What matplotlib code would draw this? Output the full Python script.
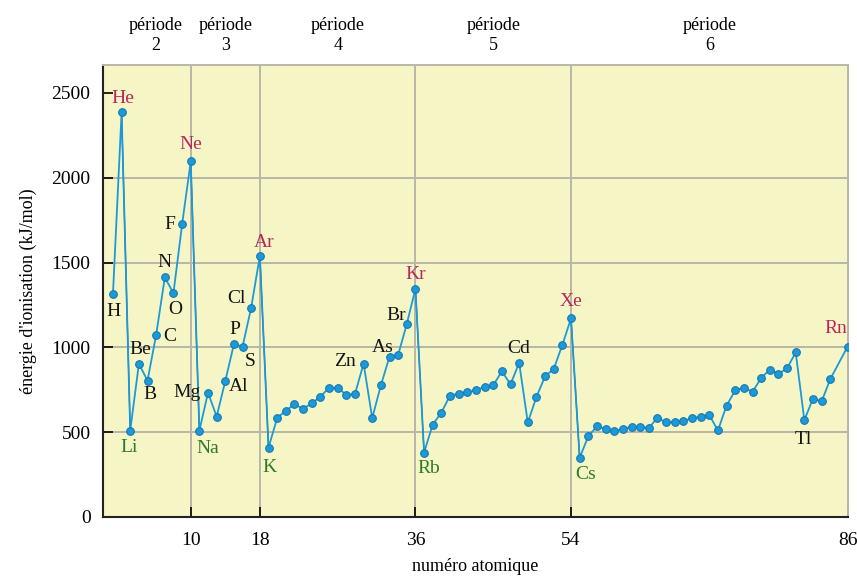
import matplotlib
matplotlib.use("Agg")
import matplotlib.pyplot as plt

plt.rcParams['font.family'] = ['Liberation Serif', 'DejaVu Serif']

# numero atomique (At, 85, is not on the chart)
numero = list(range(1, 85)) + [86]
energie = [1314, 2385, 509, 903, 804, 1074, 1412, 1320, 1725, 2096,
           509, 733, 592, 802, 1020, 1005, 1235, 1540,
           408, 584, 626, 664, 638, 670, 709, 762, 762, 720, 724, 904,
           583, 776, 945, 955, 1138, 1345,
           380, 545, 615, 716, 726, 736, 746, 768, 776, 859, 782, 909,
           557, 708, 829, 873, 1014, 1171,
           349, 476, 534, 520, 506, 520, 530, 530, 524, 585, 557, 560,
           567, 581, 591, 601, 510, 657, 746, 762, 738, 819, 869, 843,
           877, 970, 571, 698, 681, 813, 1004]

# labelled elements: symbol, atomic number
symboles = ["H", "He", "Li", "Be", "B", "C", "N", "O", "F", "Ne",
            "Na", "Mg", "Al", "P", "S", "Cl", "Ar", "K", "Zn", "As",
            "Br", "Kr", "Rb", "Cd", "Xe", "Cs", "Tl", "Rn"]
z_symboles = [1, 2, 3, 4, 5, 6, 7, 8, 9, 10, 11, 12, 13, 15, 16, 17, 18,
              19, 30, 33, 35, 36, 37, 48, 54, 55, 81, 86]

gaz_rares = ["He", "Ne", "Ar", "Kr", "Xe", "Rn"]
alcalins = ["Li", "Na", "K", "Rb", "Cs"]

limites = [2, 10, 18, 36, 54, 86]
periodes = ["2", "3", "4", "5", "6"]
xticks = [10, 18, 36, 54, 86]
yticks = [0, 500, 1000, 1500, 2000, 2500]

# label offsets in pixels (dx, dy)
decal = {"H": (1, -17), "He": (1, 14), "Li": (-1, -17), "Be": (1, 14),
         "B": (2, -14), "C": (14, -2), "N": (0, 15), "O": (2, -16),
         "F": (-12, 0), "Ne": (0, 17), "Na": (8, -18), "Mg": (-21, 0),
         "Al": (22, 30), "P": (1, 14), "S": (8, -15), "Cl": (-15, 9),
         "Ar": (4, 13), "K": (1, -20), "Zn": (-19, 2), "As": (-7, 9),
         "Br": (-11, 8), "Kr": (0, 14), "Rb": (5, -16), "Cd": (0, 14),
         "Xe": (0, 17), "Cs": (6, -17), "Tl": (-1, -19), "Rn": (-12, 18)}

bleu = "#1c9ad8"
gris = "#b8b7a8"

fig = plt.figure(figsize=(8.57, 5.81), dpi=100)
ax = fig.add_axes([0.1202, 0.1102, 0.8693, 0.778])
ax.set_facecolor("#f6f5c6")

for y in yticks[1:-1]:
    ax.axhline(y, color=gris, lw=1.4, zorder=1)
for x in limites[1:-1]:
    ax.axvline(x, color=gris, lw=1.4, zorder=1)

ax.plot(numero, energie, color=bleu, lw=1.3, marker="o", ms=5.5,
        mfc=bleu, mec="#1578b2", mew=0.8, zorder=3)

# darker drops from noble gas to the next alkali metal
for i in range(len(numero) - 1):
    if energie[i + 1] < energie[i] - 700:
        ax.plot(numero[i:i + 2], energie[i:i + 2], color="#3b4d55",
                lw=0.9, zorder=2.5)

for s, z in zip(symboles, z_symboles):
    e = energie[numero.index(z)]
    if s in gaz_rares:
        c = "#b8285c"
    elif s in alcalins:
        c = "#2f7a2a"
    else:
        c = "#151515"
    ax.annotate(s, (z, e), xytext=decal[s], textcoords="offset pixels",
                ha="center", va="center", fontsize=14, color=c, zorder=4)

for i, p in enumerate(periodes):
    xm = (limites[i] + limites[i + 1]) / 2
    ax.text(xm, 1.088, "période", transform=ax.get_xaxis_transform(),
            ha="center", va="center", fontsize=13)
    ax.text(xm, 1.042, p, transform=ax.get_xaxis_transform(),
            ha="center", va="center", fontsize=13)

ax.set_xlim(-0.15, 86.05)
ax.set_ylim(0, 2665)
ax.set_xticks(xticks)
ax.set_yticks(yticks)
ax.tick_params(direction="in", length=7, width=1.2, labelsize=14, pad=9)
ax.tick_params(axis="x", pad=11)

for k in ["left", "bottom"]:
    ax.spines[k].set_linewidth(1.5)
    ax.spines[k].set_color("#222222")
for k in ["top", "right"]:
    ax.spines[k].set_color(gris)
    ax.spines[k].set_linewidth(1.4)

ax.set_xlabel("numéro atomique", fontsize=13, labelpad=6)
ax.set_ylabel("énergie d'ionisation (kJ/mol)", fontsize=13, labelpad=10)

fig.savefig("out.png", dpi=100)
